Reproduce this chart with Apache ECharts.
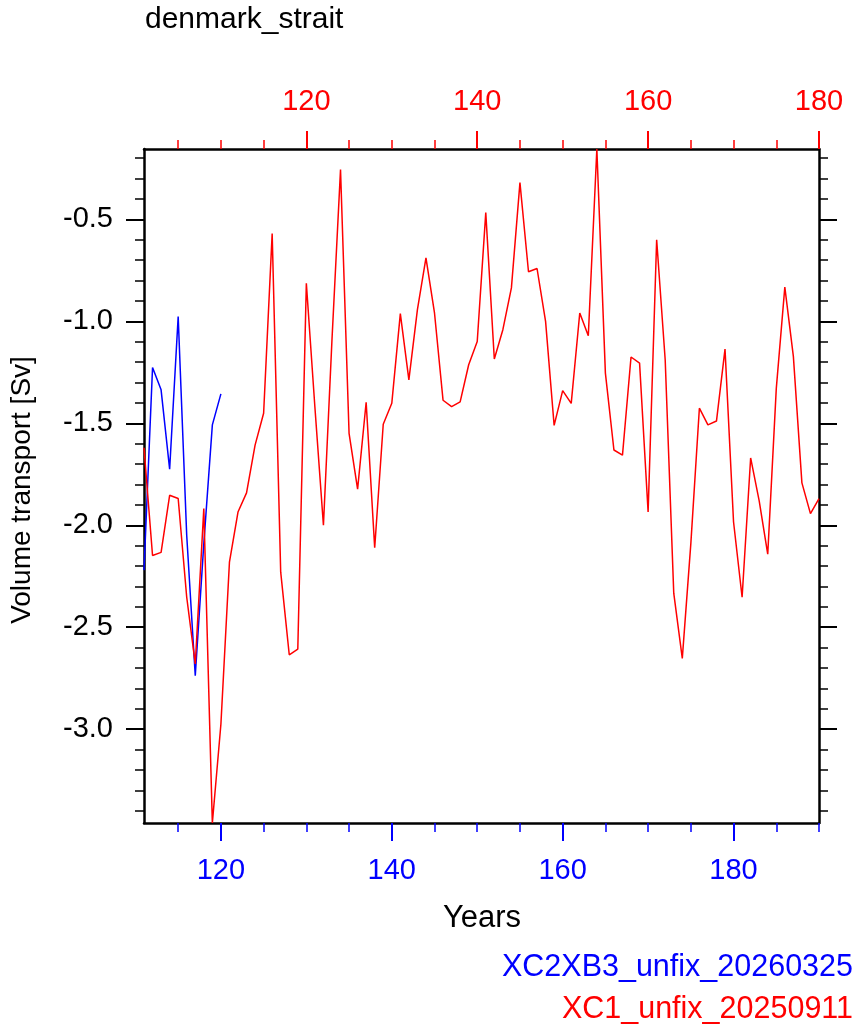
<!DOCTYPE html>
<html><head><meta charset="utf-8">
<script src="https://cdn.jsdelivr.net/npm/echarts@6/dist/echarts.min.js"></script>
<style>html,body{margin:0;padding:0;background:#fff}#c{width:858px;height:1035px}</style>
</head><body><div id="c"></div>
<script>
const titleText = 'denmark_strait';
const xName = 'Years';
const yName = 'Volume transport [Sv]';
const blueName = 'XC2XB3_unfix_20260325';
const redName = 'XC1_unfix_20250911';

const blueStart = 111;
const blueValues = [-2.22, -1.226, -1.336, -1.725, -0.976, -2.05, -2.738, -2.09, -1.508, -1.356];

const redStart = 101;
const redValues = [
  -1.62, -2.148, -2.133, -1.853, -1.869, -2.353, -2.68, -1.918, -3.46, -2.976,
  -2.181, -1.935, -1.841, -1.607, -1.451, -0.570, -2.230, -2.635, -2.607, -0.813,
  -1.42, -2.0, -1.09, -0.256, -1.549, -1.823, -1.397, -2.110, -1.505, -1.402,
  -0.962, -1.287, -0.943, -0.689, -0.959, -1.387, -1.418, -1.395, -1.213, -1.099,
  -0.467, -1.185, -1.041, -0.836, -0.320, -0.757, -0.741, -1.0, -1.510, -1.340,
  -1.402, -0.959, -1.071, -0.155, -1.254, -1.631, -1.656, -1.175, -1.205, -1.935,
  -0.600, -1.19, -2.333, -2.653, -2.09, -1.426, -1.508, -1.489, -1.136, -1.984,
  -2.353, -1.670, -1.88, -2.142, -1.33, -0.832, -1.172, -1.792, -1.943, -1.869
];

const bottomRange = [111, 190];
const topRange = [101, 180];
const bottomMajor = [120, 140, 160, 180];
const bottomMinor = [115, 125, 130, 135, 145, 150, 155, 165, 170, 175, 185, 190];
const topMajor = [120, 140, 160, 180];
const topMinor = [105, 110, 115, 125, 130, 135, 145, 150, 155, 165, 170, 175];
const yMajor = [-3.0, -2.5, -2.0, -1.5, -1.0, -0.5];
const yMinor = [-3.4, -3.3, -3.2, -3.1, -2.9, -2.8, -2.7, -2.6, -2.4, -2.3, -2.2, -2.1,
  -1.9, -1.8, -1.7, -1.6, -1.4, -1.3, -1.2, -1.1, -0.9, -0.8, -0.7, -0.6, -0.4, -0.3, -0.2];

const BLUE = '#0000ff', RED = '#ff0000', FONT = 'Liberation Sans, Arial, Helvetica, sans-serif';

const blueData = blueValues.map((v, i) => [blueStart + i, v]);
const redData = redValues.map((v, i) => [redStart + i, v]);
const yMin = Math.min(...redValues, ...blueValues);
const yMax = Math.max(...redValues, ...blueValues);

function xAx(pos, range, ticks, len, color, showLine, labels) {
  return {
    type: 'value', position: pos, min: range[0], max: range[1],
    axisLine: { show: showLine, onZero: false, lineStyle: { color: '#000', width: 2.5 } },
    axisTick: { show: true, inside: false, length: len, customValues: ticks,
      lineStyle: { color: color, width: len > 10 ? 2 : 1.5 } },
    axisLabel: { show: !!labels, customValues: labels || [], color: color, fontSize: 29,
      fontFamily: FONT, margin: 33 },
    splitLine: { show: false }
  };
}
function yAx(pos, ticks, len, showLine, labels) {
  return {
    type: 'value', position: pos, min: yMin, max: yMax,
    axisLine: { show: showLine, onZero: false, lineStyle: { color: '#000', width: 2.5 } },
    axisTick: { show: true, inside: false, length: len, customValues: ticks,
      lineStyle: { color: '#000', width: len > 10 ? 2 : 1.5 } },
    axisLabel: { show: !!labels, customValues: labels || [], color: '#000', fontSize: 29,
      fontFamily: FONT, margin: 31, formatter: v => v.toFixed(1) },
    splitLine: { show: false }
  };
}

const chart = echarts.init(document.getElementById('c'), null, { renderer: 'canvas' });
chart.setOption({
  animation: false,
  backgroundColor: '#fff',
  grid: { left: 144, top: 149, width: 675, height: 674, containLabel: false },
  xAxis: [
    xAx('bottom', bottomRange, bottomMajor, 18, BLUE, true, bottomMajor),
    xAx('top', topRange, topMajor, 18, RED, true, topMajor),
    xAx('bottom', bottomRange, bottomMinor, 9, BLUE, false, null),
    xAx('top', topRange, topMinor, 9, RED, false, null)
  ],
  yAxis: [
    yAx('left', yMajor, 18, true, yMajor),
    yAx('right', yMajor, 18, true, null),
    yAx('left', yMinor, 9, false, null),
    yAx('right', yMinor, 9, false, null)
  ],
  series: [
    { name: blueName, type: 'line', xAxisIndex: 0, yAxisIndex: 0, data: blueData,
      showSymbol: false, symbol: 'none', lineStyle: { color: BLUE, width: 1.5 },
      itemStyle: { color: BLUE }, silent: true },
    { name: redName, type: 'line', xAxisIndex: 1, yAxisIndex: 0, data: redData,
      showSymbol: false, symbol: 'none', lineStyle: { color: RED, width: 1.5 },
      itemStyle: { color: RED }, silent: true }
  ],
  graphic: [
    { type: 'text', x: 145, y: 20, style: { text: titleText, fill: '#000', font: '30px ' + FONT,
      align: 'left', verticalAlign: 'middle' } },
    { type: 'text', x: 482, y: 918, style: { text: xName, fill: '#000', font: '31px ' + FONT,
      align: 'center', verticalAlign: 'middle' } },
    { type: 'text', x: 22, y: 490, rotation: Math.PI / 2, style: { text: yName, fill: '#000',
      font: '28px ' + FONT, align: 'center', verticalAlign: 'middle' } },
    { type: 'text', x: 853, y: 968, style: { text: blueName, fill: BLUE, font: '30.5px ' + FONT,
      align: 'right', verticalAlign: 'middle' } },
    { type: 'text', x: 853, y: 1010, style: { text: redName, fill: RED, font: '30.5px ' + FONT,
      align: 'right', verticalAlign: 'middle' } }
  ]
});
</script></body></html>
